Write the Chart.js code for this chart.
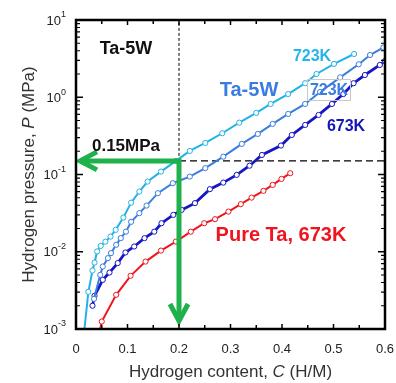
<!DOCTYPE html>
<html><head><meta charset="utf-8">
<script src="https://cdn.jsdelivr.net/npm/chart.js@4/dist/chart.umd.min.js"></script>
<style>html,body{margin:0;padding:0;background:#fff;}</style>
</head><body>
<canvas id="c" width="396" height="383" style="display:block;width:396px;height:383px"></canvas>
<script>
// ---- data ----
const xTicks = [0, 0.1, 0.2, 0.3, 0.4, 0.5, 0.6];
const yExponents = [1, 0, -1, -2, -3];

const cyanC = [0.014, 0.024, 0.032, 0.036, 0.041, 0.048, 0.057, 0.067, 0.077, 0.092, 0.107, 0.123, 0.139, 0.165, 0.194, 0.221, 0.251, 0.284, 0.317, 0.350, 0.378, 0.412, 0.445, 0.467, 0.501, 0.540];
const cyanP = [0.0007, 0.00303, 0.00571, 0.00724, 0.0101, 0.0119, 0.0135, 0.0157, 0.0192, 0.0277, 0.0432, 0.0601, 0.081, 0.109, 0.150, 0.202, 0.256, 0.342, 0.469, 0.627, 0.819, 1.10, 1.52, 2.00, 2.70, 3.63];

const medC = [0.035, 0.047, 0.052, 0.062, 0.068, 0.078, 0.087, 0.097, 0.107, 0.123, 0.137, 0.159, 0.188, 0.221, 0.251, 0.286, 0.322, 0.353, 0.382, 0.412, 0.445, 0.474, 0.513, 0.549, 0.571, 0.597];
const medP = [0.00246, 0.00502, 0.00644, 0.00826, 0.0096, 0.0123, 0.0150, 0.0182, 0.0244, 0.0316, 0.0396, 0.0573, 0.0771, 0.094, 0.121, 0.170, 0.249, 0.335, 0.452, 0.608, 0.819, 1.17, 1.81, 2.67, 3.52, 4.41];

const darkC = [0.032, 0.036, 0.052, 0.065, 0.081, 0.096, 0.113, 0.133, 0.152, 0.166, 0.189, 0.205, 0.231, 0.260, 0.286, 0.312, 0.337, 0.361, 0.398, 0.419, 0.445, 0.471, 0.497, 0.519, 0.539, 0.561, 0.590, 0.600];
const darkP = [0.0020, 0.00269, 0.00433, 0.00538, 0.00713, 0.00978, 0.0117, 0.0150, 0.0182, 0.0234, 0.0300, 0.0348, 0.0426, 0.0646, 0.0785, 0.0988, 0.130, 0.179, 0.237, 0.325, 0.438, 0.590, 0.819, 1.10, 1.52, 1.94, 2.62, 2.95];

const redC = [0.044, 0.050, 0.078, 0.106, 0.135, 0.165, 0.194, 0.223, 0.249, 0.270, 0.296, 0.320, 0.341, 0.364, 0.382, 0.399, 0.416];
const redP = [0.0008, 0.00125, 0.00277, 0.00488, 0.00746, 0.01035, 0.01355, 0.0182, 0.0234, 0.0264, 0.0331, 0.0413, 0.0502, 0.0614, 0.0733, 0.0877, 0.104];

const refC = 0.2;      // H/M at 0.15 MPa
const refP = 0.15;     // MPa
const xMin = 0, xMax = 0.6, yMin = 0.001, yMax = 10;

// ---- build datasets ----
const pts = (cs, ps) => cs.map((c, i) => ({x: c, y: ps[i]}));
const FONT = '"Liberation Sans", Arial, sans-serif';

function curve(label, cs, ps, color, width, hideFirst) {
  return {
    label, data: pts(cs, ps), borderColor: color, borderWidth: width,
    pointRadius: ctx => (hideFirst && ctx.dataIndex === 0) ? 0 : 2.6,
    pointBorderWidth: 1, pointBackgroundColor: '#ffffff', pointBorderColor: color,
    tension: 0, order: 1
  };
}

const datasets = [
  curve('Ta-5W 723K (a)', cyanC, cyanP, '#22b2e6', 2, true),
  curve('Ta-5W 723K (b)', medC, medP, '#3b7ddf', 2, false),
  curve('Ta-5W 673K', darkC, darkP, '#1616c4', 2.8, false),
  curve('Pure Ta 673K', redC, redP, '#f0161e', 2, true),
  { label: 'C ref', data: [{x: refC, y: refP}, {x: refC, y: yMax}], borderColor: '#000', borderWidth: 1,
    borderDash: [3, 2], pointRadius: 0, order: 5 },
  { label: 'P ref', data: [{x: refC, y: refP}, {x: xMax, y: refP}], borderColor: '#000', borderWidth: 1.4,
    borderDash: [7, 4], pointRadius: 0, order: 5 }
];

function drawArrowHead(ctx, tx, ty, ang, L, W) {
  const bx = tx - L * Math.cos(ang), by = ty - L * Math.sin(ang);
  const px = -Math.sin(ang), py = Math.cos(ang);
  ctx.beginPath();
  ctx.moveTo(bx + W * px, by + W * py);
  ctx.lineTo(tx, ty);
  ctx.lineTo(bx - W * px, by - W * py);
  ctx.stroke();
}

function drawRich(ctx, parts, x, y, align) {
  let total = 0;
  parts.forEach(p => { ctx.font = p[1]; total += ctx.measureText(p[0]).width; });
  let cx = align === 'center' ? x - total / 2 : x;
  ctx.textAlign = 'left';
  parts.forEach(p => { ctx.font = p[1]; ctx.fillText(p[0], cx, y); cx += ctx.measureText(p[0]).width; });
}

const decor = {
  id: 'decor',
  afterDatasetsDraw(chart) {
    const ctx = chart.ctx, xs = chart.scales.x, ys = chart.scales.y, a = chart.chartArea;
    ctx.save();
    // green arrows
    const cx = xs.getPixelForValue(refC), cy = ys.getPixelForValue(refP);
    const lx = xs.getPixelForValue(xMin) + 4, by = ys.getPixelForValue(yMin) - 8;
    ctx.strokeStyle = '#1fb14b'; ctx.lineWidth = 5; ctx.lineJoin = 'miter'; ctx.lineCap = 'butt';
    ctx.beginPath(); ctx.moveTo(lx, cy); ctx.lineTo(cx, cy); ctx.lineTo(cx, by); ctx.stroke();
    drawArrowHead(ctx, lx, cy, Math.PI, 17, 9);
    drawArrowHead(ctx, cx, by, Math.PI / 2, 17, 9);

    // frame
    ctx.strokeStyle = '#000'; ctx.lineWidth = 2.5; ctx.lineJoin = 'miter';
    ctx.strokeRect(a.left, a.top, a.right - a.left, a.bottom - a.top);

    // x ticks (inward, top & bottom), every 0.05
    ctx.lineWidth = 1.5;
    for (let i = 0; i <= 12; i++) {
      const v = i * 0.05, px = xs.getPixelForValue(v);
      const len = (i % 2 === 0) ? 5 : 4;
      ctx.beginPath();
      ctx.moveTo(px, a.bottom); ctx.lineTo(px, a.bottom - len);
      ctx.moveTo(px, a.top); ctx.lineTo(px, a.top + len);
      ctx.stroke();
    }
    // y ticks (inward, left & right)
    for (let e = -3; e <= 1; e++) {
      for (let m = 1; m <= 9; m++) {
        const v = m * Math.pow(10, e);
        if (v > yMax + 1e-9) break;
        const py = ys.getPixelForValue(v);
        const len = m === 1 ? 7 : 4;
        ctx.lineWidth = m === 1 ? 1.5 : 1.2;
        ctx.beginPath();
        ctx.moveTo(a.left, py); ctx.lineTo(a.left + len, py);
        ctx.moveTo(a.right, py); ctx.lineTo(a.right - len, py);
        ctx.stroke();
      }
    }

    // tick labels
    ctx.fillStyle = '#222';
    ctx.textBaseline = 'middle';
    ctx.font = '13px ' + FONT; ctx.textAlign = 'center';
    xTicks.forEach(v => ctx.fillText(String(v), xs.getPixelForValue(v), a.bottom + 20));
    yExponents.forEach(e => {
      const py = ys.getPixelForValue(Math.pow(10, e));
      const base = '10', ex = String(e);
      ctx.font = '13px ' + FONT; const wb = ctx.measureText(base).width;
      ctx.font = '9px ' + FONT; const we = ctx.measureText(ex).width;
      const right = a.left - 10;
      ctx.textAlign = 'left';
      ctx.font = '13px ' + FONT; ctx.fillText(base, right - we - wb, py + 1);
      ctx.font = '9px ' + FONT; ctx.fillText(ex, right - we, py - 5);
    });

    // axis titles
    ctx.fillStyle = '#333'; ctx.textBaseline = 'alphabetic';
    drawRich(ctx, [['Hydrogen content, ', '17px ' + FONT], ['C', 'italic 17px ' + FONT], [' (H/M)', '17px ' + FONT]],
      (a.left + a.right) / 2, 377, 'center');
    ctx.save();
    ctx.translate(34, (a.top + a.bottom) / 2);
    ctx.rotate(-Math.PI / 2);
    drawRich(ctx, [['Hydrogen pressure, ', '17px ' + FONT], ['P', 'italic 17px ' + FONT], [' (MPa)', '17px ' + FONT]],
      0, 0, 'center');
    ctx.restore();

    // annotations
    ctx.textAlign = 'center'; ctx.textBaseline = 'middle';
    ctx.fillStyle = '#111'; ctx.font = 'bold 18px ' + FONT; ctx.fillText('Ta-5W', 126, 49);
    ctx.font = 'bold 17px ' + FONT; ctx.fillText('0.15MPa', 126, 146);
    ctx.fillStyle = '#27b4e8'; ctx.font = 'bold 16px ' + FONT; ctx.fillText('723K', 312, 57);
    ctx.fillStyle = '#3a7ce0'; ctx.font = 'bold 20px ' + FONT; ctx.fillText('Ta-5W', 249, 90);
    ctx.strokeStyle = '#c8c8c8'; ctx.lineWidth = 1; ctx.strokeRect(307.5, 79.5, 43, 21);
    ctx.font = 'bold 16px ' + FONT; ctx.fillText('723K', 329, 91);
    ctx.fillStyle = '#1414b8'; ctx.fillText('673K', 346, 127);
    ctx.fillStyle = '#f0141e'; ctx.font = 'bold 20px ' + FONT; ctx.fillText('Pure Ta, 673K', 281, 235);
    ctx.restore();
  }
};

new Chart(document.getElementById('c'), {
  type: 'line',
  data: { datasets },
  options: {
    responsive: false, animation: false, devicePixelRatio: 1,
    layout: { padding: { left: 76, top: 20, right: 11, bottom: 54 } },
    plugins: { legend: { display: false }, tooltip: { enabled: false } },
    scales: {
      x: { type: 'linear', display: false, min: xMin, max: xMax },
      y: { type: 'logarithmic', display: false, min: yMin, max: yMax }
    }
  },
  plugins: [decor]
});
</script>
</body></html>
